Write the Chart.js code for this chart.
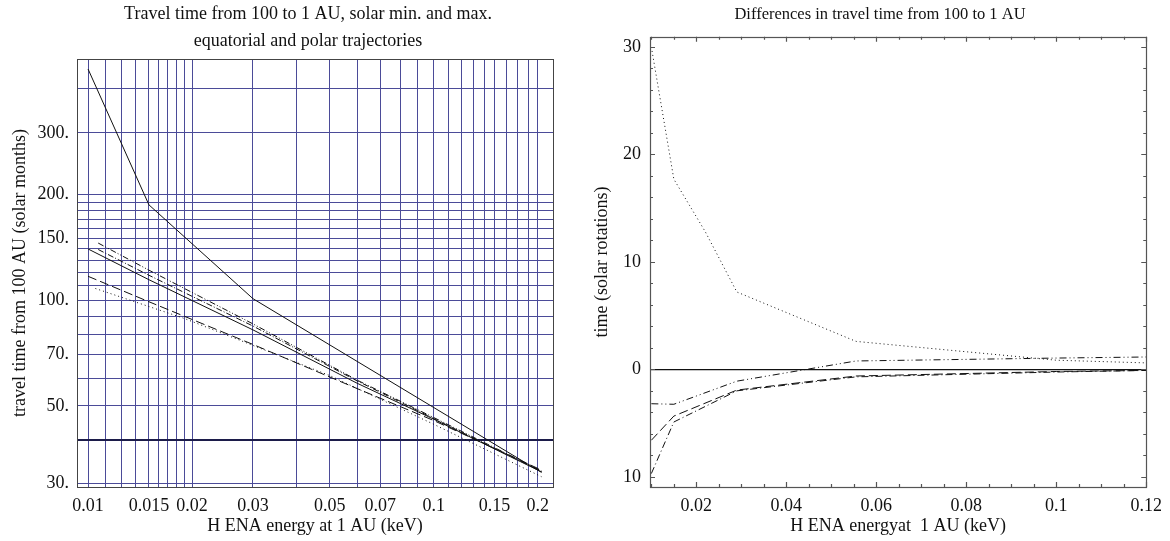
<!DOCTYPE html>
<html>
<head>
<meta charset="utf-8">
<script src="https://cdn.jsdelivr.net/npm/chart.js@4.4.1/dist/chart.umd.min.js"></script>
<style>
  html, body { margin: 0; padding: 0; background: #fff; }
  #wrap { position: relative; width: 1170px; height: 541px; overflow: hidden; }
  canvas { position: absolute; top: 0; }
  #left { left: 0; }
  #right { left: 590px; }
</style>
</head>
<body>
<div id="wrap">
  <canvas id="left" width="616" height="541"></canvas>
  <canvas id="right" width="580" height="541"></canvas>
</div>
<script>
// ---- left panel: travel time (solar months), log-log
const energyA = [0.01, 0.015, 0.03, 0.205];
const timeA = [456, 187, 101, 32.3];
const energyB = [0.01, 0.015, 0.03, 0.06, 0.1, 0.205];
const timeB = [140, 114.4, 82.3, 58.0, 45.8, 32.4];
const energyC = [0.0107, 0.015, 0.03, 0.06, 0.1, 0.205];
const timeC = [145.5, 121.8, 85.6, 59.2, 46.3, 32.6];
const energyD = [0.0107, 0.015, 0.03, 0.06, 0.1, 0.205];
const timeD = [139.5, 117.8, 84.4, 58.9, 46.0, 32.5];
const energyE = [0.01, 0.015, 0.03, 0.06, 0.1, 0.205];
const timeE = [117, 99, 74.8, 56, 45.4, 32.8];
const energyF = [0.0105, 0.019, 0.05, 0.1, 0.205];
const timeF = [108, 88.7, 61, 44.3, 31.4];

const leftXGrid = [0.01, 0.01125, 0.0125, 0.01375, 0.015, 0.016, 0.017, 0.018, 0.019, 0.02,
  0.03, 0.04, 0.05, 0.06, 0.07, 0.08, 0.09, 0.1, 0.11, 0.12, 0.13, 0.14, 0.15,
  0.1625, 0.175, 0.1875, 0.2];
const leftXTickVals = [0.01, 0.015, 0.02, 0.03, 0.05, 0.07, 0.1, 0.15, 0.2];
const leftXTickText = ['0.01', '0.015', '0.02', '0.03', '0.05', '0.07', '0.1', '0.15', '0.2'];
const leftYGrid = [30, 40, 50, 60, 70, 80, 90, 100, 110, 120, 130, 140, 150, 160, 170, 180, 190, 200, 300, 400];
const leftYTickVals = [30, 50, 70, 100, 150, 200, 300];
const leftYTickText = ['30.', '50.', '70.', '100.', '150.', '200.', '300.'];

// ---- right panel: differences (solar rotations)
const diffEnergyDot = [0.01, 0.015, 0.022, 0.029, 0.0555, 0.1, 0.12];
const diffDotted = [30, 17.7, 12.8, 7.2, 2.6, 0.85, 0.6];
const diffEnergy = [0.01, 0.015, 0.029, 0.0555, 0.1, 0.12];
const diffDashDotDot = [-3.2, -3.25, -1.1, 0.78, 1.05, 1.15];
const diffLongDash = [-6.6, -4.35, -1.93, -0.62, -0.2, -0.1];
const diffDashDot = [-9.7, -4.9, -2.0, -0.7, -0.25, -0.1];

const rightXTicks = [0.01, 0.015, 0.02, 0.025, 0.03, 0.035, 0.04, 0.045, 0.05, 0.055, 0.06, 0.065,
  0.07, 0.075, 0.08, 0.085, 0.09, 0.095, 0.1, 0.105, 0.11, 0.115, 0.12];
const rightXTickVals = [0.02, 0.04, 0.06, 0.08, 0.1, 0.12];
const rightXTickText = ['0.02', '0.04', '0.06', '0.08', '0.1', '0.12'];
const rightYTicks = [-10, -8, -6, -4, -2, 0, 2, 4, 6, 8, 10, 12, 14, 16, 18, 20, 22, 24, 26, 28, 30];
const rightYTickVals = [-10, 0, 10, 20, 30];
const rightYTickText = ['10', '0', '10', '20', '30'];

const SERIF = '"Liberation Serif", "DejaVu Serif", serif';
const FS = 18;
const GRID = '#4b4b98';

function toXY(xs, ys) {
    return xs.map((x, i) => ({ x, y: ys[i] }));
}

function labelFor(vals, texts) {
    return (value) => {
        const i = vals.findIndex(v => Math.abs(v / value - 1) < 1e-6 || v === value);
        return i >= 0 ? texts[i] : '';
    };
}

function line(data, dash) {
    return {
        data,
        borderColor: '#111',
        borderWidth: 1,
        borderDash: dash,
        pointRadius: 0,
        tension: 0,
        fill: false
    };
}

// frame round the plot area, optionally with inside ticks on all four sides
const framePlugin = {
    id: 'frame',
    afterDatasetsDraw(chart, args, opts) {
        const { ctx, chartArea: a } = chart;
        ctx.save();
        ctx.strokeStyle = opts.color || '#555';
        ctx.lineWidth = opts.width || 1;
        if (opts.ticks) {
            const sx = chart.scales.x, sy = chart.scales.y;
            ctx.beginPath();
            sx.ticks.forEach(t => {
                const px = Math.round(sx.getPixelForValue(t.value)) + 0.5;
                const len = t.label ? 5 : 3;
                ctx.moveTo(px, a.bottom); ctx.lineTo(px, a.bottom - len);
                ctx.moveTo(px, a.top); ctx.lineTo(px, a.top + len);
            });
            sy.ticks.forEach(t => {
                const py = Math.round(sy.getPixelForValue(t.value)) + 0.5;
                const len = t.label ? 5 : 3;
                ctx.moveTo(a.left, py); ctx.lineTo(a.left + len, py);
                ctx.moveTo(a.right, py); ctx.lineTo(a.right - len, py);
            });
            ctx.stroke();
        }
        ctx.strokeRect(Math.round(a.left) + 0.5, Math.round(a.top) + 0.5,
            Math.round(a.right - a.left), Math.round(a.bottom - a.top));
        ctx.restore();
    }
};

// empty right-hand axis used only to reserve space so the title centres on the panel
function spacer(width) {
    return {
        position: 'right',
        type: 'linear',
        display: true,
        grid: { display: false },
        border: { display: false },
        ticks: { display: false },
        afterFit: s => { s.width = width; }
    };
}

new Chart(document.getElementById('left'), {
    type: 'line',
    data: {
        datasets: [
            line(toXY(energyA, timeA), []),
            line(toXY(energyB, timeB), []),
            line(toXY(energyC, timeC), [6, 2, 1, 2, 1, 2]),
            line(toXY(energyD, timeD), [6, 2, 1, 2]),
            line(toXY(energyE, timeE), [9, 4]),
            line(toXY(energyF, timeF), [1, 3])
        ]
    },
    plugins: [framePlugin],
    options: {
        responsive: false,
        animation: false,
        layout: { padding: 0 },
        plugins: {
            legend: { display: false },
            tooltip: { enabled: false },
            title: {
                display: true,
                text: ['Travel time from 100 to 1 AU, solar min. and max.', 'equatorial and polar trajectories'],
                color: '#111',
                font: { family: SERIF, size: FS, weight: 'normal', lineHeight: 1.5 },
                padding: { top: 1, bottom: 4 }
            },
            frame: { color: '#444', width: 1 }
        },
        scales: {
            x: {
                type: 'logarithmic',
                min: 0.00929,
                max: 0.2213,
                bounds: 'data',
                afterBuildTicks: s => { s.ticks = leftXGrid.map(v => ({ value: v })); },
                afterFit: s => { s.height = 54; },
                grid: { color: GRID, lineWidth: 1, drawTicks: false },
                border: { display: false },
                ticks: {
                    autoSkip: false, maxRotation: 0, padding: 8, color: '#111',
                    font: { family: SERIF, size: FS },
                    callback: labelFor(leftXTickVals, leftXTickText)
                },
                title: {
                    display: true, text: 'H ENA energy at 1 AU (keV)', color: '#111',
                    font: { family: SERIF, size: FS }, padding: { top: 0, bottom: 4 }
                }
            },
            y: {
                type: 'logarithmic',
                min: 29.35,
                max: 487,
                bounds: 'data',
                afterBuildTicks: s => { s.ticks = leftYGrid.map(v => ({ value: v })); },
                afterFit: s => { s.width = 77; },
                grid: {
                    drawTicks: false,
                    color: ctx => ctx.tick && ctx.tick.value === 40 ? '#1c1c4a' : GRID,
                    lineWidth: ctx => ctx.tick && ctx.tick.value === 40 ? 2 : 1
                },
                border: { display: false },
                ticks: {
                    autoSkip: false, padding: 8, color: '#111',
                    font: { family: SERIF, size: FS },
                    callback: labelFor(leftYTickVals, leftYTickText)
                },
                title: {
                    display: true, text: 'travel time from 100 AU (solar months)', color: '#111',
                    font: { family: SERIF, size: FS }, padding: { top: 9, bottom: 0 }
                }
            },
            pad: spacer(63)
        }
    }
});

new Chart(document.getElementById('right'), {
    type: 'line',
    data: {
        datasets: [
            line(toXY(diffEnergyDot, diffDotted), [1, 3]),
            line(toXY(diffEnergy, diffDashDotDot), [7, 3, 1, 3, 1, 3]),
            line(toXY(diffEnergy, diffLongDash), [9, 4]),
            line(toXY(diffEnergy, diffDashDot), [7, 3, 1, 3])
        ]
    },
    plugins: [framePlugin],
    options: {
        responsive: false,
        animation: false,
        layout: { padding: 0 },
        plugins: {
            legend: { display: false },
            tooltip: { enabled: false },
            title: {
                display: true,
                text: 'Differences in travel time from 100 to 1 AU',
                color: '#111',
                font: { family: SERIF, size: 16.5, weight: 'normal', lineHeight: 1.2 },
                padding: { top: 5, bottom: 12 }
            },
            frame: { color: '#555', width: 1.2, ticks: true }
        },
        scales: {
            x: {
                type: 'linear',
                min: 0.0097,
                max: 0.12,
                bounds: 'data',
                afterBuildTicks: s => { s.ticks = rightXTicks.map(v => ({ value: v })); },
                afterFit: s => { s.height = 54; },
                grid: { display: false, drawTicks: false },
                border: { display: false },
                ticks: {
                    autoSkip: false, maxRotation: 0, padding: 8, color: '#111',
                    font: { family: SERIF, size: FS },
                    callback: labelFor(rightXTickVals, rightXTickText)
                },
                title: {
                    display: true, text: 'H ENA energyat  1 AU (keV)', color: '#111',
                    font: { family: SERIF, size: FS }, padding: { top: 0, bottom: 4 }
                }
            },
            y: {
                type: 'linear',
                min: -10.95,
                max: 30.95,
                bounds: 'data',
                afterBuildTicks: s => { s.ticks = rightYTicks.map(v => ({ value: v })); },
                afterFit: s => { s.width = 60; },
                grid: {
                    drawTicks: false,
                    color: ctx => ctx.tick && ctx.tick.value === 0 ? '#111' : 'rgba(0,0,0,0)',
                    lineWidth: 1.2
                },
                border: { display: false },
                ticks: {
                    autoSkip: false, padding: 9, color: '#111',
                    font: { family: SERIF, size: FS },
                    callback: labelFor(rightYTickVals, rightYTickText)
                },
                title: {
                    display: true, text: 'time (solar rotations)', color: '#111',
                    font: { family: SERIF, size: FS }, padding: { top: 1, bottom: 0 }
                }
            },
            pad: spacer(21)
        }
    }
});
</script>
</body>
</html>
